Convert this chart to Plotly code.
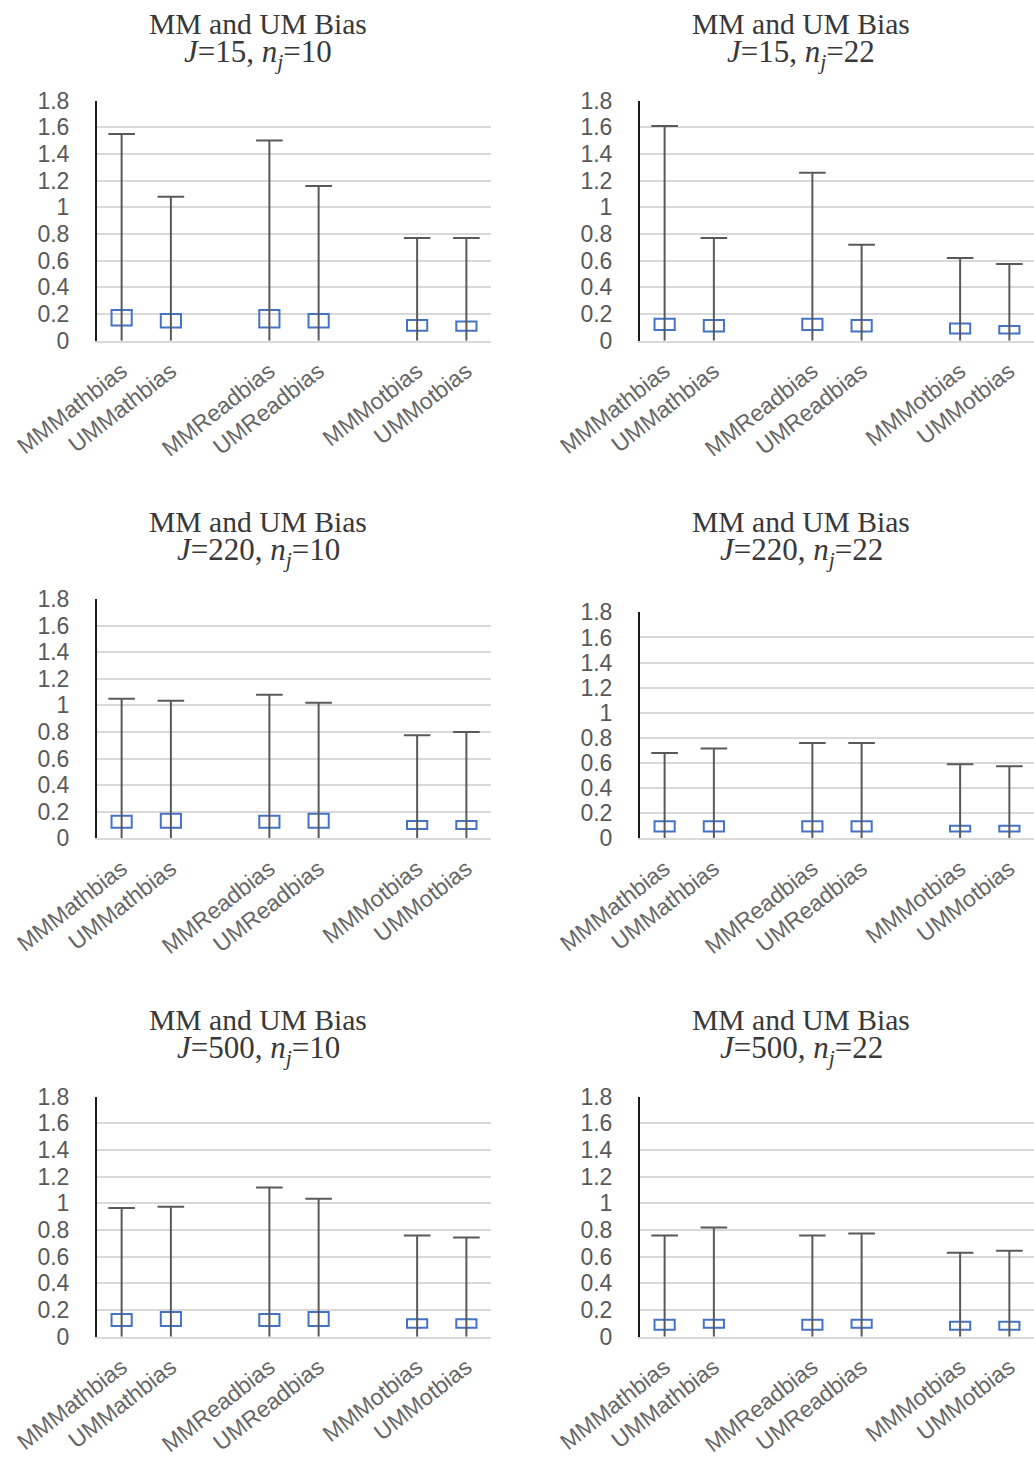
import plotly.graph_objects as go

W, H = 1034, 1459

categories = ["MMMathbias", "UMMathbias", "MMReadbias", "UMReadbias", "MMMotbias", "UMMotbias"]
y_ticks = [0, 0.2, 0.4, 0.6, 0.8, 1, 1.2, 1.4, 1.6, 1.8]
y_ticktext = ["0", "0.2", "0.4", "0.6", "0.8", "1", "1.2", "1.4", "1.6", "1.8"]

panel_J = [15, 15, 220, 220, 500, 500]
panel_nj = [10, 22, 10, 22, 10, 22]

# whisker maxima (upper end), whisker minima, and box quartiles per panel
high_1 = [1.55, 1.08, 1.50, 1.16, 0.77, 0.77]
q3_1 = [0.23, 0.20, 0.23, 0.20, 0.155, 0.145]
q1_1 = [0.115, 0.10, 0.10, 0.10, 0.075, 0.075]

high_2 = [1.61, 0.77, 1.26, 0.72, 0.62, 0.575]
q3_2 = [0.165, 0.155, 0.165, 0.155, 0.13, 0.11]
q1_2 = [0.08, 0.07, 0.08, 0.07, 0.055, 0.055]

high_3 = [1.05, 1.035, 1.08, 1.02, 0.775, 0.80]
q3_3 = [0.17, 0.185, 0.17, 0.185, 0.13, 0.13]
q1_3 = [0.08, 0.08, 0.08, 0.08, 0.07, 0.07]

high_4 = [0.68, 0.715, 0.76, 0.76, 0.59, 0.575]
q3_4 = [0.135, 0.135, 0.135, 0.135, 0.10, 0.10]
q1_4 = [0.055, 0.055, 0.055, 0.055, 0.055, 0.055]

high_5 = [0.965, 0.975, 1.12, 1.035, 0.76, 0.745]
q3_5 = [0.17, 0.185, 0.17, 0.185, 0.13, 0.13]
q1_5 = [0.08, 0.08, 0.08, 0.08, 0.068, 0.068]

high_6 = [0.76, 0.82, 0.76, 0.775, 0.63, 0.645]
q3_6 = [0.128, 0.128, 0.128, 0.128, 0.113, 0.113]
q1_6 = [0.053, 0.068, 0.053, 0.068, 0.053, 0.053]

low_all = [0, 0, 0, 0, 0, 0]

highs = [high_1, high_2, high_3, high_4, high_5, high_6]
q3s = [q3_1, q3_2, q3_3, q3_4, q3_5, q3_6]
q1s = [q1_1, q1_2, q1_3, q1_4, q1_5, q1_6]

# ---- layout geometry (pixels) ----
col_x = [(97, 491), (640, 1034)]
row_y = [[(100.5, 340.8), (100.5, 340.8)],
         [(599.0, 838.3), (612.3, 838.3)],
         [(1096.7, 1336.7), (1096.7, 1336.7)]]
title_cx = [258, 801]
title_y1 = [24, 522, 1020]
title_y2 = [54, 552, 1050]

# slots: pairs separated by an empty slot
slot = [i + i // 2 for i in range(len(categories))]

GRAY = "#595959"
BLUE = "#4472C4"
GRID = "#d9d9d9"

fig = go.Figure()
layout = {}
annotations = []

for p in range(6):
    r, c = p // 2, p % 2
    n = p + 1
    xa = "x" if n == 1 else f"x{n}"
    ya = "y" if n == 1 else f"y{n}"
    xkey = "xaxis" if n == 1 else f"xaxis{n}"
    ykey = "yaxis" if n == 1 else f"yaxis{n}"

    hi, q3, q1 = highs[p], q3s[p], q1s[p]

    # whisker lines
    wx, wy = [], []
    for k in range(len(categories)):
        wx += [slot[k], slot[k], None]
        wy += [low_all[k], hi[k], None]
    fig.add_trace(go.Scatter(x=wx, y=wy, mode="lines",
                             line=dict(color=GRAY, width=2),
                             xaxis=xa, yaxis=ya, showlegend=False, hoverinfo="skip"))
    # caps at top
    fig.add_trace(go.Scatter(x=slot, y=hi, mode="markers",
                             marker=dict(symbol="line-ew", size=19, color=GRAY,
                                         line=dict(color=GRAY, width=2)),
                             xaxis=xa, yaxis=ya, showlegend=False, hoverinfo="skip"))
    # boxes
    fig.add_trace(go.Bar(x=slot, y=[b - a for a, b in zip(q1, q3)], base=q1,
                         width=0.41,
                         marker=dict(color="rgba(0,0,0,0)", line=dict(color=BLUE, width=2)),
                         xaxis=xa, yaxis=ya, showlegend=False, hoverinfo="skip"))

    x0, x1 = col_x[c]
    yt, yb = row_y[r][c]
    layout[xkey] = dict(domain=[x0 / W, x1 / W], anchor=ya, range=[-0.5, 7.5],
                        tickmode="array", tickvals=slot, ticktext=categories,
                        tickangle=-38, showgrid=False, zeroline=False, automargin=False,
                        showline=True, linecolor=GRID, linewidth=2,
                        ticks="outside", ticklen=6, tickcolor="rgba(0,0,0,0)",
                        tickfont=dict(family="Liberation Sans", size=23, color="#666666"))
    layout[ykey] = dict(domain=[1 - yb / H, 1 - yt / H], anchor=xa, range=[0, 1.8005],
                        tickmode="array", tickvals=y_ticks, ticktext=y_ticktext,
                        showgrid=True, gridcolor=GRID, gridwidth=1.5, zeroline=False,
                        automargin=False,
                        showline=True, linecolor="#1a1a1a", linewidth=2,
                        ticks="outside", ticklen=21, tickcolor="rgba(0,0,0,0)",
                        tickfont=dict(family="Liberation Sans", size=23, color=GRAY))

    annotations.append(dict(xref="paper", yref="paper", x=title_cx[c] / W, y=1 - title_y1[r] / H,
                            xanchor="center", yanchor="middle", showarrow=False,
                            text="MM and UM Bias",
                            font=dict(family="Liberation Serif", size=29.6, color="#383838")))
    annotations.append(dict(xref="paper", yref="paper", x=title_cx[c] / W, y=1 - title_y2[r] / H,
                            xanchor="center", yanchor="middle", showarrow=False,
                            text=f"<i>J</i>={panel_J[p]}, <i>n<sub>j</sub></i>={panel_nj[p]}",
                            font=dict(family="Liberation Serif", size=31, color="#383838")))

fig.update_layout(width=W, height=H, margin=dict(l=0, r=0, t=0, b=0, autoexpand=False),
                  paper_bgcolor="white", plot_bgcolor="white",
                  barmode="overlay", annotations=annotations, **layout)

fig.write_html("out.html", config={"displayModeBar": False},
               post_script="document.body.style.margin='0';")
